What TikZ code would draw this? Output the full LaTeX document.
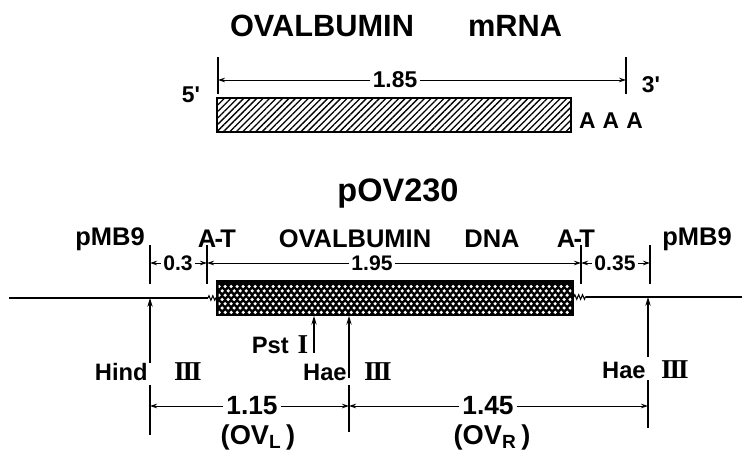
\documentclass[tikz,border=0pt]{standalone}
\usepackage{fontspec}
\setmainfont{Liberation Sans}
\newfontfamily\romfont{Liberation Serif}
\usetikzlibrary{arrows.meta, positioning, calc, patterns.meta, decorations.pathmorphing}

\newcommand{\romiii}{{\romfont\bfseries\fontsize{15.5}{17}\selectfont I\kern-1.2pt I\kern-1.2pt I}}
\newcommand{\romi}{{\romfont\bfseries\fontsize{15.5}{17}\selectfont I}}

\begin{document}
\begin{tikzpicture}[x=0.02cm, y=0.02cm,
  ttl/.style={font=\fontsize{17.5}{19}\selectfont\bfseries, inner sep=0pt},
  lbl/.style={font=\fontsize{14.5}{16}\selectfont\bfseries, inner sep=0pt},
  cutlbl/.style={font=\fontsize{13.5}{15}\selectfont\bfseries, inner sep=0pt},
  endlbl/.style={font=\fontsize{13}{15}\selectfont\bfseries, inner sep=0pt},
  dimsm/.style={font=\fontsize{12}{14}\selectfont\bfseries, inner sep=1.2pt},
  dimbig/.style={font=\fontsize{15}{17}\selectfont\bfseries, inner sep=1.5pt},
  ovlbl/.style={font=\fontsize{15.5}{17}\selectfont\bfseries, inner sep=0pt},
  mrnabox/.style={draw, line width=1.1pt, minimum width=7.08cm, minimum height=0.68cm,
                  inner sep=0pt, pattern={Lines[angle=45,distance=2.6pt,line width=0.75pt]}},
  dnabox/.style={draw, line width=1pt, fill=black, minimum width=7.12cm, minimum height=0.68cm,
                 inner sep=0pt},
  dnaln/.style={line width=1.6pt},
  zig/.style={line width=0.6pt, decorate, decoration={zigzag, segment length=2.2pt, amplitude=1.3pt}},
  tickln/.style={line width=0.6pt},
  dimarr/.style={-{Stealth[length=4pt,width=2.6pt]}, line width=0.5pt},
  cutarr/.style={-{Stealth[length=5pt,width=3pt]}, line width=0.7pt},
]
\useasboundingbox (0,0) rectangle (750,452);
%% mRNA
\node[ttl] (ovttl) at (322,426) {OVALBUMIN};
\node[ttl] (mrnattl) at (515,426) {mRNA};
\node[mrnabox] (mrna) at (394,337) {};
\node[endlbl] (five) at (191,357) {5\textquotesingle};
\node[endlbl] (three) at (651,367) {3\textquotesingle};
\node[endlbl] (aaa) at (611,331) {A\hspace{4pt}A\hspace{4pt}A};
\coordinate (mt1) at (218,372);
\coordinate (mt2) at (626,372);
\draw[tickln] ([yshift=13]mt1) -- ([yshift=-8]mt1);
\draw[tickln] ([yshift=13]mt2) -- ([yshift=-8]mt2);
\node[dimsm, font=\fontsize{13}{15}\selectfont\bfseries] (d185) at (395,372) {1.85};
\draw[dimarr] (d185.west) -- (mt1);
\draw[dimarr] (d185.east) -- (mt2);
%% pOV230
\node[font=\fontsize{18.5}{20}\selectfont\bfseries, inner sep=0pt] (pov) at (398,258) {pOV230};
\node[lbl] (pmbl) at (110,213) {pMB9};
\node[lbl] (atl) at (217,213) {A\kern-1pt-\kern-1.5pt T};
\node[lbl] (ovdnattl) at (355,213) {OVALBUMIN};
\node[lbl] (dnattl) at (492,213) {DNA};
\node[lbl] (atr) at (576,213) {A\kern-1pt-\kern-1.5pt T};
\node[lbl] (pmbr) at (697,213) {pMB9};
%% upper dimensions
\coordinate (t1) at (150,189);
\coordinate (t2) at (207,189);
\coordinate (t3) at (581,189);
\coordinate (t4) at (650,189);
\foreach \t in {t1,t2,t3,t4}
  \draw[tickln] ([yshift=10]\t) -- ([yshift=-12]\t);
\node[dimsm] (d03) at (178,189) {0.3};
\node[dimsm] (d195) at (372,189) {1.95};
\node[dimsm] (d035) at (615,189) {0.35};
\draw[dimarr] (d03.west) -- (t1);
\draw[dimarr] (d03.east) -- (t2);
\draw[dimarr] (d195.west) -- (t2);
\draw[dimarr] (d195.east) -- (t3);
\draw[dimarr] (d035.west) -- (t3);
\draw[dimarr] (d035.east) -- (t4);
%% DNA
\node[dnabox] (ovdna) at (395,154) {};
\begin{scope}
  \clip ([shift={(2.5,2.5)}]ovdna.south west) rectangle ([shift={(-2.5,-2.5)}]ovdna.north east);
  \foreach \r in {0,...,6}{
    \pgfmathsetmacro\dx{mod(\r,2)*3}
    \foreach \c in {0,...,59}
      \fill[white] ($(ovdna.south west)+(\c*6+\dx+3,\r*4.3+3.5)$) circle (1pt);
  }
\end{scope}
\coordinate (lend) at (9,154);
\coordinate (lzig) at (208,154);
\coordinate (rzig) at (586,155);
\coordinate (rend) at (742,155);
\draw[dnaln] (lend) -- (lzig);
\draw[zig] (lzig) -- (ovdna.west);
\draw[zig] (ovdna.east |- rzig) -- (rzig);
\draw[dnaln] (rzig) -- (rend);
%% cut sites
\node[cutlbl, anchor=east] (hind) at (148,80) {Hind};
\node[cutlbl] (hindnum) at (188,80) {\romiii};
\node[cutlbl] (pst) at (280,107) {Pst\hspace{5pt}\romi};
\node[cutlbl, anchor=east] (haem) at (347,80) {Hae};
\node[cutlbl] (haemnum) at (378,80) {\romiii};
\node[cutlbl, anchor=east] (haer) at (646,82) {Hae};
\node[cutlbl] (haernum) at (675,82) {\romiii};
\coordinate (hindlo) at (150,89);
\coordinate (pstlo) at (314,99);
\coordinate (haemlo) at (349,74);
\coordinate (haerlo) at (648,95);
\draw[cutarr] (hindlo) -- (hindlo |- lend);
\draw[cutarr] (pstlo) -- (pstlo |- ovdna.south);
\draw[cutarr] (haemlo) -- (haemlo |- ovdna.south);
\draw[cutarr] (haerlo) -- (haerlo |- rend);
%% lower dimensions
\coordinate (hindt) at (150,67);
\coordinate (haemt) at (349,67);
\coordinate (haert) at (648,72);
\draw[tickln] (hindt) -- ++(0,-50);
\draw[tickln] (haemt) -- ++(0,-47);
\draw[tickln] (haert) -- ++(0,-48);
\node[dimbig] (d115) at (252,46) {1.15};
\node[dimbig] (d145) at (488,46) {1.45};
\draw[dimarr] (d115.west) -- (hindt |- d115);
\draw[dimarr] (d115.east) -- (haemt |- d115);
\draw[dimarr] (d145.west) -- (haemt |- d145);
\draw[dimarr] (d145.east) -- (haert |- d145);
\node[ovlbl] (ovl) at (258,15) {(OV\textsubscript{L}\,)};
\node[ovlbl] (ovr) at (492,15) {(OV\textsubscript{R}\,)};
\end{tikzpicture}
\end{document}
